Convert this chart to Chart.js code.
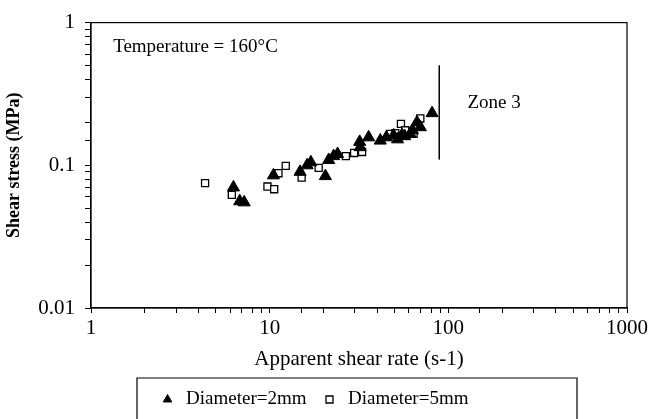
<!DOCTYPE html>
<html>
<head>
<meta charset="utf-8">
<script src="https://cdn.jsdelivr.net/npm/chart.js@4"></script>
<style>
  html, body { margin: 0; padding: 0; background: #fff; }
  #wrap { width: 652px; height: 419px; }
</style>
</head>
<body>
<div id="wrap"><canvas id="shearChart" width="652" height="419"></canvas></div>
<script>
// Data
const dia2Rate   = [6.27, 6.8, 7.2, 10.5, 14.8, 16.2, 17.0, 20.5, 21.4, 22.8, 24.0, 31.9, 32.1, 35.8, 41.6, 45, 49.4, 52, 55, 57, 61.2, 63, 66.8, 69.7, 81.1];
const dia2Stress = [0.070, 0.056, 0.055, 0.085, 0.090, 0.100, 0.105, 0.084, 0.109, 0.116, 0.120, 0.146, 0.134, 0.157, 0.149, 0.157, 0.162, 0.152, 0.163, 0.160, 0.166, 0.176, 0.200, 0.185, 0.232];
const dia5Rate   = [4.35, 6.14, 9.72, 10.6, 11.2, 12.3, 15.1, 18.8, 26.7, 29.7, 32.9, 47.3, 50.5, 54.3, 57.4, 63.9, 69.7];
const dia5Stress = [0.075, 0.062, 0.071, 0.068, 0.088, 0.099, 0.082, 0.096, 0.116, 0.122, 0.124, 0.166, 0.168, 0.195, 0.176, 0.166, 0.213];
const zoneRate   = [89, 89];
const zoneStress = [0.5, 0.11];
const xTickLabels = [1, 10, 100, 1000];
const yTickLabels = [0.01, 0.1, 1];

const serif = "'Liberation Serif', 'DejaVu Serif', serif";
const toPoints = (xs, ys) => xs.map((x, i) => ({ x: x, y: ys[i] }));

// Frame around plot + free text + legend box
const extras = {
    id: 'extras',
    afterDraw(chart) {
        const { ctx, chartArea: a, scales } = chart;
        ctx.save();
        ctx.strokeStyle = '#000';
        ctx.lineWidth = 1.2;
        ctx.strokeRect(a.left, a.top, a.right - a.left, a.bottom - a.top);

        ctx.fillStyle = '#000';
        ctx.font = '19px ' + serif;
        ctx.textBaseline = 'middle';
        ctx.fillText('Temperature = 160\u00B0C', scales.x.getPixelForValue(1.33), scales.y.getPixelForValue(0.67));
        ctx.fillText('Zone 3', scales.x.getPixelForValue(128), scales.y.getPixelForValue(0.275));

        // legend border (open at bottom, like the reference)
        ctx.beginPath();
        ctx.moveTo(137, 419);
        ctx.lineTo(137, 378);
        ctx.lineTo(577, 378);
        ctx.lineTo(577, 419);
        ctx.stroke();
        ctx.restore();
    }
};

new Chart(document.getElementById('shearChart').getContext('2d'), {
    type: 'scatter',
    data: {
        datasets: [
            {
                label: 'Diameter=2mm',
                data: toPoints(dia2Rate, dia2Stress),
                pointStyle: 'triangle',
                pointRadius: 7,
                backgroundColor: '#000',
                borderColor: '#000',
                borderWidth: 1
            },
            {
                label: 'Diameter=5mm',
                data: toPoints(dia5Rate, dia5Stress),
                pointStyle: 'rect',
                pointRadius: 5,
                backgroundColor: '#fff',
                borderColor: '#000',
                borderWidth: 1.3
            },
            {
                label: 'zone',
                data: toPoints(zoneRate, zoneStress),
                showLine: true,
                pointRadius: 0,
                borderColor: '#000',
                borderWidth: 1
            }
        ]
    },
    options: {
        responsive: false,
        animation: false,
        layout: { padding: { left: 0, top: 19, right: 25, bottom: 0 } },
        plugins: {
            tooltip: { enabled: false },
            legend: {
                position: 'bottom',
                labels: {
                    filter: (item) => item.text !== 'zone',
                    usePointStyle: true,
                    color: '#000',
                    font: { family: serif, size: 19 },
                    boxWidth: 18,
                    boxHeight: 7,
                    padding: 14
                }
            }
        },
        scales: {
            x: {
                type: 'logarithmic',
                min: 1,
                max: 1000,
                afterFit: (s) => { s.height = 68; },
                grid: { drawOnChartArea: false, color: '#000', tickLength: 5 },
                border: { color: '#000', width: 1.2 },
                ticks: {
                    autoSkip: false,
                    maxRotation: 0,
                    color: '#000',
                    padding: 3,
                    font: { family: serif, size: 21 },
                    callback: (v) => xTickLabels.includes(v) ? String(v) : ''
                },
                title: {
                    display: true,
                    text: 'Apparent shear rate (s-1)',
                    color: '#000',
                    font: { family: serif, size: 21 },
                    padding: { top: 0 }
                }
            },
            y: {
                type: 'logarithmic',
                min: 0.01,
                max: 1,
                afterFit: (s) => { s.width = 91; },
                grid: { drawOnChartArea: false, color: '#000', tickLength: 6 },
                border: { color: '#000', width: 1.2 },
                ticks: {
                    autoSkip: false,
                    color: '#000',
                    padding: 10,
                    font: { family: serif, size: 21 },
                    callback: (v) => yTickLabels.includes(v) ? String(v) : ''
                },
                title: {
                    display: true,
                    text: 'Shear stress (MPa)',
                    color: '#000',
                    font: { family: serif, size: 18, weight: 'bold' },
                    padding: { bottom: 0 }
                }
            }
        }
    },
    plugins: [extras]
});
</script>
</body>
</html>
